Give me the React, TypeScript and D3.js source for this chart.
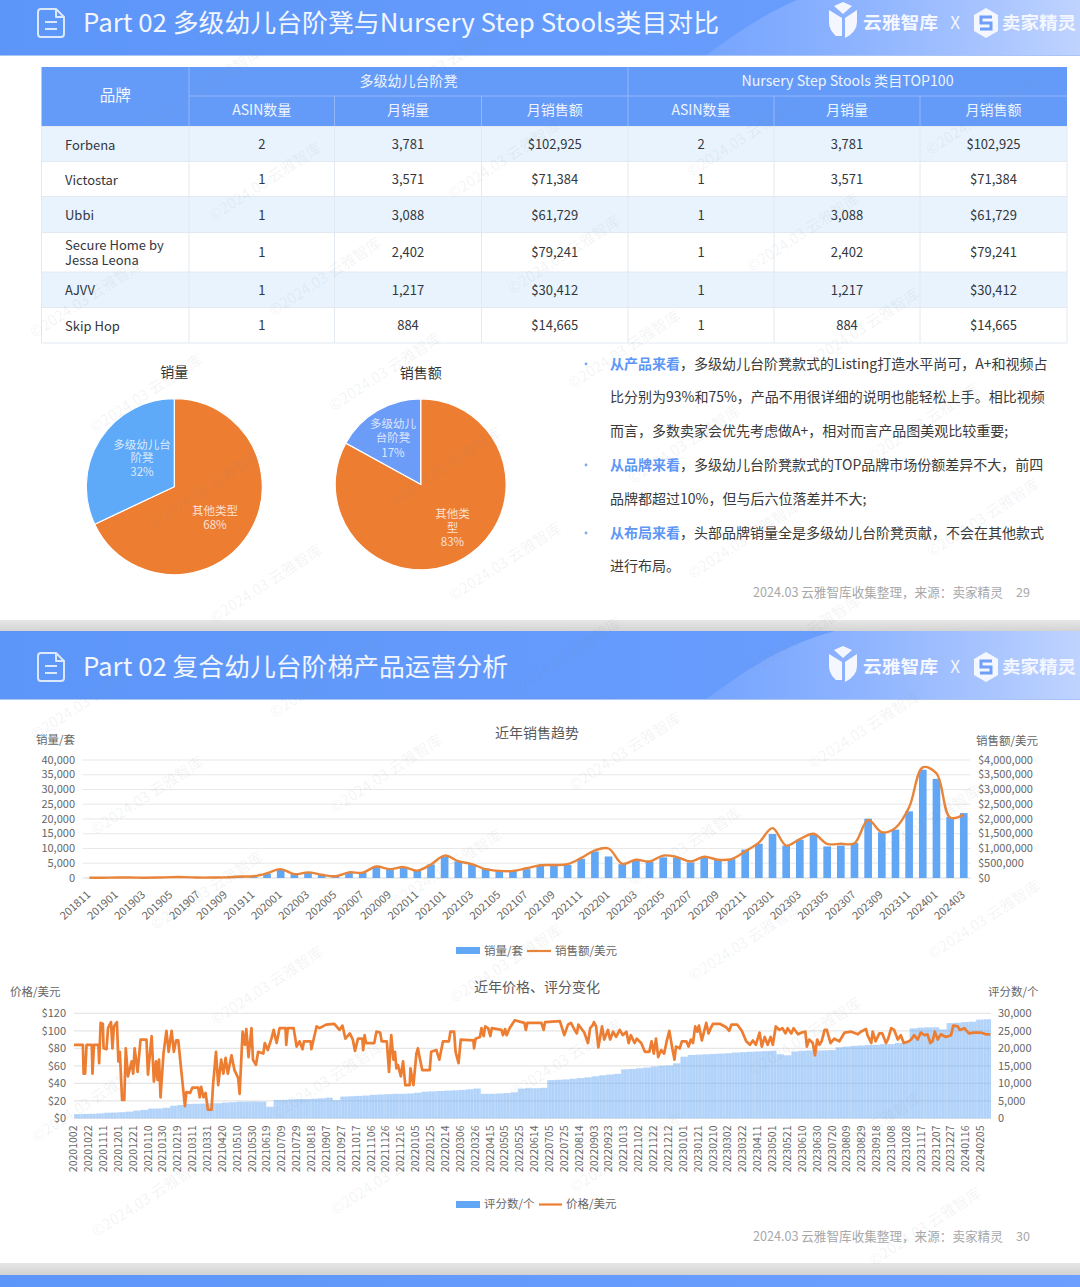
import React from "react";
import * as d3 from "d3";

const FONT = "'Noto Sans CJK SC','Noto Sans',sans-serif";
const BLUE = "#62a6f6";
const ORANGE = "#ed7d31";

// ---------- table ----------
const brands = ["Forbena", "Victostar", "Ubbi", "Secure Home by|Jessa Leona", "AJVV", "Skip Hop"];
const asinCounts = [2, 1, 1, 1, 1, 1];
const monthlyUnits = ["3,781", "3,571", "3,088", "2,402", "1,217", "884"];
const monthlyRevenue = ["$102,925", "$71,384", "$61,729", "$79,241", "$30,412", "$14,665"];
const subHeaders = ["ASIN数量", "月销量", "月销售额", "ASIN数量", "月销量", "月销售额"];

// ---------- pies ----------
const pieLabels = ["其他类型", "多级幼儿台阶凳"];
const pieUnits = [68, 32];
const pieRevenue = [83, 17];

// ---------- monthly trend ----------
const months = ["201811","201812","201901","201902","201903","201904","201905","201906","201907","201908","201909","201910","201911","201912","202001","202002","202003","202004","202005","202006","202007","202008","202009","202010","202011","202012","202101","202102","202103","202104","202105","202106","202107","202108","202109","202110","202111","202112","202201","202202","202203","202204","202205","202206","202207","202208","202209","202210","202211","202212","202301","202302","202303","202304","202305","202306","202307","202308","202309","202310","202311","202312","202401","202402","202403"];
const salesUnits = [30,30,60,60,30,50,150,150,80,60,100,300,450,1500,2800,1300,1900,1000,500,1800,1800,3800,3000,3500,2400,4600,7200,5600,4700,3200,2500,2400,3000,4300,4300,4500,6500,9000,7300,4700,5900,5600,7000,6800,5300,6800,6200,6400,9600,11600,14900,11000,13000,14700,10700,11000,11900,20100,15500,16400,22600,36700,33600,20650,22000];
const salesRevenue = [10000,10000,15000,15000,10000,15000,30000,30000,15000,15000,20000,50000,60000,160000,300000,130000,190000,110000,60000,190000,180000,390000,300000,370000,250000,460000,760000,570000,470000,300000,240000,240000,330000,430000,440000,470000,680000,940000,1000000,480000,620000,560000,760000,710000,560000,720000,620000,640000,900000,1200000,1690000,1100000,1320000,1500000,1160000,1160000,1180000,1970000,1550000,1700000,2400000,3750000,3550000,2050000,2150000];
const unitTicks = [0,5000,10000,15000,20000,25000,30000,35000,40000];
const revenueTicks = [0,500000,1000000,1500000,2000000,2500000,3000000,3500000,4000000];

// ---------- price and reviews ----------
const dateLabels = ["20201002","20201022","20201111","20201201","20201221","20210110","20210130","20210219","20210311","20210331","20210420","20210510","20210530","20210619","20210709","20210729","20210818","20210907","20210927","20211017","20211106","20211126","20211216","20220105","20220125","20220214","20220306","20220326","20220415","20220505","20220525","20220614","20220705","20220725","20220814","20220903","20220923","20221013","20221102","20221122","20221212","20230101","20230121","20230210","20230302","20230322","20230411","20230501","20230521","20230610","20230630","20230720","20230809","20230829","20230918","20231008","20231028","20231117","20231207","20231227","20240116","20240205"];
const priceDays = [0,12,13,15,17,24,25,27,33,34,36,39,40,44,46,50,52,54,58,60,62,65,68,70,73,78,80,82,86,90,98,100,105,108,111,113,115,117,121,125,128,132,135,138,141,145,150,152,157,160,168,170,172,175,178,181,186,188,192,195,199,202,205,208,213,217,222,224,228,231,233,236,240,242,246,249,256,258,262,267,270,274,278,286,287,289,297,301,305,309,311,320,321,328,332,341,352,359,363,367,373,377,380,384,390,391,393,395,400,406,409,414,416,423,426,429,432,434,436,438,442,445,448,454,455,459,463,465,468,471,481,483,490,494,499,507,509,514,516,520,523,540,541,543,549,551,554,556,560,563,565,578,580,583,585,589,596,609,611,613,632,635,637,657,663,668,672,677,680,682,690,695,698,702,703,706,709,714,717,722,725,729,733,738,742,747,750,753,758,761,767,772,778,781,784,787,790,794,798,802,805,809,812,814,819,822,828,831,834,837,840,843,845,849,852,855,858,861,864,873,882,886,889,897,903,909,914,918,922,927,930,934,938,942,945,949,954,958,962,965,970,973,979,984,989,991,994,999,1002,1005,1008,1011,1015,1018,1023,1028,1035,1042,1051,1060,1064,1071,1073,1078,1080,1084,1089,1093,1098,1101,1105,1109,1114,1118,1122,1129,1132,1136,1141,1145,1150,1154,1158,1161,1164,1168,1172,1179,1186,1189,1195,1198,1204,1210,1217,1226,1233,1239];
const priceValues = [84,84,51,51,84,84,51,84,84,63,109,108,80,79,103,110,80,105,110,65,76,21,21,80,48,65,51,80,53,90,90,50,94,42,65,44,67,24,74,100,76,100,76,89,89,55,14,30,29,35,35,24,36,24,29,10,10,38,76,38,67,51,69,51,72,55,46,28,99,84,102,70,103,67,61,76,74,86,78,91,101,86,103,103,84,103,103,82,88,79,88,88,79,105,103,107,108,101,106,91,97,90,77,91,91,78,95,86,86,86,99,98,88,88,53,95,67,76,57,61,48,65,38,38,57,38,74,80,67,55,55,76,78,67,88,88,99,99,76,63,90,89,80,91,93,103,94,105,103,94,103,101,95,102,95,103,112,109,101,109,109,101,110,111,95,107,109,101,97,107,98,86,103,107,110,105,81,105,90,101,90,99,93,101,95,99,86,95,86,91,86,76,76,88,74,91,70,78,74,90,100,80,67,82,80,88,88,82,90,86,105,99,106,89,99,109,97,103,108,108,104,100,107,107,100,88,84,89,84,98,82,93,84,93,84,105,101,103,97,103,97,103,96,98,99,82,90,86,72,90,84,88,101,101,86,91,88,98,99,96,99,102,95,86,99,88,97,97,86,91,103,101,90,95,86,88,90,95,90,98,95,96,86,88,99,90,96,93,95,106,105,101,103,97,98,98,96,96];
const reviewCounts = [1200,1250,1300,1400,1600,1650,1750,1900,2200,2400,2760,2800,3000,3600,3800,4100,4150,4200,4300,4300,4500,4600,4760,4760,4800,4760,3300,5240,5300,5400,5500,5500,5600,5700,5900,5200,6200,6300,6400,6500,6700,6800,6900,7000,7000,7100,7300,7600,7700,7800,7900,8000,8100,8300,8500,7000,7000,7100,7200,7400,8500,8600,8600,8700,10900,11000,11100,11300,11500,11700,12000,12300,12500,12700,14000,14100,14300,14500,14800,15000,15100,15700,17600,18100,18200,18300,18400,18500,18600,18800,18900,19000,19100,19200,19300,18300,18000,19100,19300,19400,19400,19400,19500,20300,20500,20700,20800,20950,21000,21200,21200,21500,21900,25700,25900,26000,26000,25400,27200,27300,27500,27600,28200,28300];
const priceTicks = [0,20,40,60,80,100,120];
const reviewTicks = [0,5000,10000,15000,20000,25000,30000];
const REVIEW_STEP_DAYS = 10;

// ---------- copy ----------
const bullets = [
  { y: 364, lead: "从产品来看", rest: "，多级幼儿台阶凳款式的Listing打造水平尚可，A+和视频占" },
  { y: 465, lead: "从品牌来看", rest: "，多级幼儿台阶凳款式的TOP品牌市场份额差异不大，前四" },
  { y: 533, lead: "从布局来看", rest: "，头部品牌销量全是多级幼儿台阶凳贡献，不会在其他款式" },
];
const plainLines = [
  { y: 397.5, t: "比分别为93%和75%，产品不用很详细的说明也能轻松上手。相比视频" },
  { y: 431, t: "而言，多数卖家会优先考虑做A+，相对而言产品图美观比较重要;" },
  { y: 499, t: "品牌都超过10%，但与后六位落差并不大;" },
  { y: 566, t: "进行布局。" },
];

const T = (p: any) => (
  <text fontFamily={FONT} dominantBaseline="central" dy={-1.3} {...p}>{p.children}</text>
);

function Header({ y, title, width }: { y: number; title: string; width: number }) {
  return (
    <g transform={`translate(0,${y})`}>
      <rect width={1080} height={69} fill="url(#hdr)" />
      <path d="M705,69 C745,40 780,15 835,0 L1080,0 L1080,69 Z" fill="url(#swoosh)" />
      <rect y={68} width={1080} height={1} fill="#a9c4f5" />
      <g fill="none" stroke="#eaf1ff" strokeWidth={2} strokeLinejoin="round" opacity={0.9}>
        <path d="M41,22 H56 L64,30 V47 Q64,50 61,50 H41 Q38,50 38,47 V25 Q38,22 41,22 Z" />
        <path d="M56,22 V30 H64" />
        <path d="M45,35 H57 M45,42 H57" />
      </g>
      <T x={83} y={35} fill="#f2f6ff" fontSize={25} textLength={width} lengthAdjust="spacingAndGlyphs">{title}</T>
      <path d="M829,23 L842,31 L842,49 L836,49 Q829,43 829,35 Z M857,23 L845,31 L845,51 Q857,45 857,35 Z M834,19 L843,15 L852,19 L843,27 Z" fill="#f4f7ff" />
      <T x={863} y={35.5} fill="#f4f7ff" fontSize={17.5} fontWeight={700} textLength={75} lengthAdjust="spacingAndGlyphs">云雅智库</T>
      <T x={955} y={36} fill="#f4f7ff" fontSize={17} textAnchor="middle">X</T>
      <path d="M986,21 L998,28 V44 L986,51 L974,44 V28 Z" fill="#f4f7ff" />
      <path d="M992,30 H981 V36 H991 V42 H980" fill="none" stroke="#6f9ff8" strokeWidth={3} />
      <T x={1002} y={35.5} fill="#f4f7ff" fontSize={17.5} fontWeight={700} textLength={74} lengthAdjust="spacingAndGlyphs">卖家精灵</T>
    </g>
  );
}

function Table() {
  const cols = [41.5, 189, 334.5, 481.5, 628, 774, 920, 1067];
  const rows = [126.5, 161.5, 196.5, 232.5, 272, 307.5, 343];
  const head = "#659bf8";
  const headLine = "#93b7fa";
  const gridLine = "#e2e9f1";
  const sub = [0, 1, 2, 3, 4, 5];
  const center = (i: number) => (cols[i] + cols[i + 1]) / 2;
  return (
    <g>
      <rect x={cols[0]} y={67} width={cols[7] - cols[0]} height={59.5} fill={head} />
      <line x1={cols[1]} x2={cols[7]} y1={96} y2={96} stroke={headLine} />
      {[1, 4].map((c) => <line key={c} x1={cols[c]} x2={cols[c]} y1={67} y2={126.5} stroke={headLine} />)}
      {[2, 3, 5, 6].map((c) => <line key={c} x1={cols[c]} x2={cols[c]} y1={96} y2={126.5} stroke={headLine} />)}
      <T x={center(0)} y={95} fill="#f3f7ff" fontSize={15.5} textAnchor="middle">品牌</T>
      <T x={(cols[1] + cols[4]) / 2} y={81} fill="#eef4ff" fontSize={14} textAnchor="middle">多级幼儿台阶凳</T>
      <T x={(cols[4] + cols[7]) / 2} y={81} fill="#eef4ff" fontSize={14.2} textAnchor="middle">Nursery Step Stools 类目TOP100</T>
      {sub.map((i) => <T key={i} x={center(i + 1)} y={110.5} fill="#eef4ff" fontSize={14} textAnchor="middle">{subHeaders[i]}</T>)}
      {brands.map((b, r) => {
        const lines = b.split("|");
        const cy = (rows[r] + rows[r + 1]) / 2;
        const vals = [asinCounts[r], monthlyUnits[r], monthlyRevenue[r], asinCounts[r], monthlyUnits[r], monthlyRevenue[r]];
        return (
          <g key={b}>
            <rect x={cols[0]} y={rows[r]} width={cols[7] - cols[0]} height={rows[r + 1] - rows[r]} fill={r % 2 === 0 ? "#e8f3fe" : "#fff"} />
            <text fontFamily={FONT} fontSize={13} fill="#33373d" dominantBaseline="central">
              {lines.map((l, i) => (
                <tspan key={l} x={65} y={cy - 0.5 + (i - (lines.length - 1) / 2) * 15.3}>{l}</tspan>
              ))}
            </text>
            {vals.map((v, i) => <T key={i} x={center(i + 1)} y={cy + 1} fill="#33373d" fontSize={13} textAnchor="middle">{v}</T>)}
          </g>
        );
      })}
      {rows.map((y) => <line key={y} x1={cols[0]} x2={cols[7]} y1={y} y2={y} stroke={gridLine} />)}
      {cols.map((x) => <line key={x} x1={x} x2={x} y1={126.5} y2={343} stroke={gridLine} />)}
    </g>
  );
}

function Pie({ cx, cy, r, title, titleY, values, blue, labels }: any) {
  const arcs = d3.pie<number>().sort(null)(values);
  const arc = d3.arc<any>().innerRadius(0).outerRadius(r);
  const colors = [ORANGE, blue];
  return (
    <g>
      <T x={cx} y={titleY} fontSize={14} fill="#333" textAnchor="middle">{title}</T>
      <g transform={`translate(${cx},${cy})`}>
        {arcs.map((a, i) => <path key={i} d={arc(a) as string} fill={colors[i]} stroke="#fff" strokeWidth={1.2} />)}
      </g>
      {labels.map((l: any, i: number) => (
        <T key={i} x={l.x} y={l.y} fontSize={11.5} fill="#fff" fillOpacity={0.78} textAnchor="middle">{l.t}</T>
      ))}
    </g>
  );
}

function TrendChart() {
  const x = d3.scaleBand<string>().domain(months).range([82.6, 970.6]).paddingInner(0.44).paddingOuter(0.22);
  const yL = d3.scaleLinear().domain([0, 40000]).range([878, 760]);
  const yR = d3.scaleLinear().domain([0, 4000000]).range([878, 760]);
  const center = (i: number) => (x(months[i]) as number) + x.bandwidth() / 2;
  const line = d3.line<number>().x((_, i) => center(i)).y((d) => yR(d)).curve(d3.curveCatmullRom.alpha(0.5));
  const fmt = d3.format(",");
  return (
    <g>
      <T x={537} y={733} fontSize={14} fill="#595959" textAnchor="middle">近年销售趋势</T>
      <T x={36} y={740.5} fontSize={11.5} fill="#666">销量/套</T>
      <T x={976} y={741.5} fontSize={11.5} fill="#666">销售额/美元</T>
      {unitTicks.map((t) => (
        <g key={t}>
          <line x1={82.6} x2={970.6} y1={yL(t)} y2={yL(t)} stroke={t === 0 ? "#d9d9d9" : "#e8e8e8"} strokeWidth={1.2} />
          <T x={75} y={yL(t)} fontSize={11} fill="#666" textAnchor="end">{fmt(t)}</T>
        </g>
      ))}
      {revenueTicks.map((t) => <T key={t} x={978} y={yR(t)} fontSize={11} fill="#666">{"$" + fmt(t)}</T>)}
      {salesUnits.map((v, i) => (
        <rect key={months[i]} x={x(months[i])} y={yL(v)} width={x.bandwidth()} height={yL(0) - yL(v)} fill={BLUE} />
      ))}
      <path d={line(salesRevenue) as string} fill="none" stroke="#e8853a" strokeWidth={2.4} />
      {months.map((m, i) => i % 2 === 0 && (
        <T key={m} transform={`translate(${center(i) - 0.5},${893}) rotate(-42)`} fontSize={11} fill="#666" textAnchor="end">{m}</T>
      ))}
      <rect x={456} y={947} width={24} height={7} fill={BLUE} />
      <T x={484} y={951} fontSize={11.5} fill="#666">销量/套</T>
      <line x1={527} x2={551} y1={951} y2={951} stroke="#e8853a" strokeWidth={2.2} />
      <T x={555} y={951} fontSize={11.5} fill="#666">销售额/美元</T>
    </g>
  );
}

function PriceChart() {
  const x = d3.scaleLinear().domain([0, 1240]).range([74, 991]);
  const labelX = d3.scalePoint<string>().domain(dateLabels).range([74, 981]);
  const yL = d3.scaleLinear().domain([0, 120]).range([1118.3, 1013.3]);
  const yR = d3.scaleLinear().domain([0, 30000]).range([1118.3, 1013.3]);
  const line = d3.line<number>().x((_, i) => x(priceDays[i])).y((d) => yL(d));
  const fmt = d3.format(",");
  return (
    <g>
      <T x={537} y={987} fontSize={14} fill="#595959" textAnchor="middle">近年价格、评分变化</T>
      <T x={10} y={992} fontSize={11.5} fill="#666">价格/美元</T>
      <T x={988} y={992} fontSize={11.5} fill="#666">评分数/个</T>
      {priceTicks.map((t) => (
        <g key={t}>
          <line x1={74} x2={991} y1={yL(t)} y2={yL(t)} stroke="#e6e6e6" strokeWidth={1.2} />
          <T x={66} y={yL(t)} fontSize={11} fill="#666" textAnchor="end">{"$" + t}</T>
        </g>
      ))}
      {reviewTicks.map((t) => <T key={t} x={998} y={yR(t)} fontSize={11} fill="#666">{fmt(t)}</T>)}
      {reviewCounts.map((v, i) => (
        <rect key={i} x={x(i * REVIEW_STEP_DAYS)} y={yR(v)}
          width={x(REVIEW_STEP_DAYS) - x(0)} height={yR(0) - yR(v)} fill="url(#stripes)" />
      ))}
      <path d={line(priceValues) as string} fill="none" stroke={ORANGE} strokeWidth={2.7} strokeLinejoin="round" />
      {dateLabels.map((d) => (
        <T key={d} transform={`translate(${labelX(d)},1125.5) rotate(-90)`} fontSize={10.5} fill="#666" textAnchor="end">{d}</T>
      ))}
      <rect x={456} y={1201} width={24} height={7} fill={BLUE} />
      <T x={484} y={1204.5} fontSize={11.5} fill="#666">评分数/个</T>
      <line x1={539} x2={562} y1={1204.5} y2={1204.5} stroke={ORANGE} strokeWidth={2.2} />
      <T x={566} y={1204.5} fontSize={11.5} fill="#666">价格/美元</T>
    </g>
  );
}

function Footer({ y, page }: { y: number; page: string }) {
  return (
    <g>
      <T x={753} y={y} fontSize={12.6} fill="#a8a8a8">2024.03 云雅智库收集整理，来源：卖家精灵</T>
      <T x={1016} y={y} fontSize={12.6} fill="#a8a8a8">{page}</T>
    </g>
  );
}

function Watermarks() {
  const items: { x: number; y: number }[] = [];
  for (let a = -6; a <= 8; a++) {
    for (let b = -10; b <= 14; b++) {
      const x = 150 + 239 * a + 60 * b;
      const y = 800 - 22 * a + 95 * b;
      if (x > 62 && x < 1018 && y > 48 && y < 1245) items.push({ x, y });
    }
  }
  return (
    <g pointerEvents="none">
      {items.map((p, i) => (
        <text key={i} transform={`translate(${p.x},${p.y}) rotate(-33)`} fontFamily={FONT} fontSize={15}
          textAnchor="middle" fill="#7f8a99" fillOpacity={0.1}>©2024.03 云雅智库</text>
      ))}
    </g>
  );
}

export default function App() {
  return (
    <div style={{ position: "absolute", left: 0, top: 0, width: 1080, height: 1287, overflow: "hidden", background: "#fff" }}>
      <svg width={1080} height={1287} viewBox="0 0 1080 1287" style={{ display: "block" }}>
        <defs>
          <linearGradient id="hdr" x1="0" x2="1" y1="0" y2="0">
            <stop offset="0" stopColor="#5c96f8" />
            <stop offset="1" stopColor="#6c9fff" />
          </linearGradient>
          <linearGradient id="swoosh" x1="0" x2="1" y1="0" y2="0">
            <stop offset="0" stopColor="#8ab0ff" stopOpacity={0.45} />
            <stop offset="1" stopColor="#c4d6ff" stopOpacity={0.95} />
          </linearGradient>
          <linearGradient id="gap" x1="0" x2="0" y1="0" y2="1">
            <stop offset="0" stopColor="#e6e6e6" />
            <stop offset="1" stopColor="#d2d2d2" />
          </linearGradient>
          <pattern id="stripes" patternUnits="userSpaceOnUse" width={3} height={10}>
            <rect width={3} height={10} fill={BLUE} fillOpacity={0.4} />
            <rect width={2.3} height={10} fill={BLUE} fillOpacity={0.14} />
          </pattern>
        </defs>
        <rect width={1080} height={1287} fill="#fff" />
        <Header y={-13} title="Part 02 多级幼儿台阶凳与Nursery Step Stools类目对比" width={636} />
        <Table />
        <Pie cx={174.3} cy={486.7} r={88} title="销量" titleY={372} values={pieUnits} blue="#5ea9f8" labels={[
          { x: 142, y: 445, t: "多级幼儿台" }, { x: 142, y: 458.5, t: "阶凳" }, { x: 142, y: 472.5, t: pieUnits[1] + "%" },
          { x: 215, y: 511.5, t: pieLabels[0] }, { x: 215, y: 525.5, t: pieUnits[0] + "%" },
        ]} />
        <Pie cx={420.7} cy={484.3} r={85.5} title="销售额" titleY={373} values={pieRevenue} blue="#6b9cf8" labels={[
          { x: 393, y: 424.5, t: "多级幼儿" }, { x: 393, y: 438.5, t: "台阶凳" }, { x: 393, y: 453, t: pieRevenue[1] + "%" },
          { x: 452.5, y: 514.5, t: "其他类" }, { x: 452.5, y: 528.5, t: "型" }, { x: 452.5, y: 542.5, t: pieRevenue[0] + "%" },
        ]} />
        {bullets.map((b) => (
          <g key={b.lead}>
            <circle cx={586} cy={b.y} r={1.4} fill="#7fa8f0" />
            <T x={610} y={b.y} fontSize={14} fill="#3a3a3a">
              <tspan fill="#5d96f5" fontWeight={700}>{b.lead}</tspan>
              <tspan>{b.rest}</tspan>
            </T>
          </g>
        ))}
        {plainLines.map((l) => <T key={l.y} x={610} y={l.y} fontSize={14} fill="#3a3a3a">{l.t}</T>)}
        <Footer y={592.5} page="29" />

        <rect y={620} width={1080} height={12} fill="url(#gap)" />
        <Header y={631} title="Part 02 复合幼儿台阶梯产品运营分析" width={425} />
        <TrendChart />
        <PriceChart />
        <Footer y={1236.5} page="30" />
        <rect y={1263} width={1080} height={12} fill="url(#gap)" />
        <rect y={1275} width={1080} height={12} fill="url(#hdr)" />
        <Watermarks />
      </svg>
    </div>
  );
}
